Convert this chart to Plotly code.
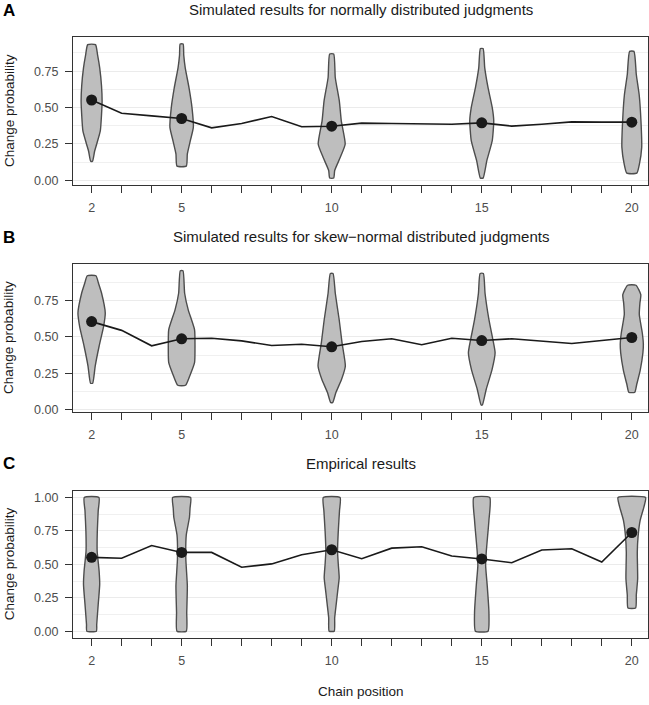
import plotly.graph_objects as go

W, H = 649, 705
FONT = "Liberation Sans, Arial, sans-serif"

# ---------------- data ----------------
positions = list(range(2, 21))
violin_positions = [2, 5, 10, 15, 20]
labelled = {2: "2", 5: "5", 10: "10", 15: "15", 20: "20"}
x_tick_labels = [labelled.get(p, "") for p in positions]

titles = [
    "Simulated results for normally distributed judgments",
    "Simulated results for skew\u2212normal distributed judgments",
    "Empirical results",
]
panel_letters = ["A", "B", "C"]

# mean change probability by chain position (2..20)
mean_A = [0.552, 0.461, 0.443, 0.425, 0.361, 0.391, 0.439, 0.368, 0.372, 0.393,
          0.391, 0.386, 0.386, 0.395, 0.373, 0.386, 0.402, 0.400, 0.400]
mean_B = [0.605, 0.545, 0.439, 0.487, 0.491, 0.473, 0.441, 0.450, 0.432, 0.468,
          0.487, 0.446, 0.491, 0.475, 0.487, 0.473, 0.455, 0.475, 0.496]
mean_C = [0.552, 0.545, 0.641, 0.589, 0.589, 0.478, 0.503, 0.572, 0.609, 0.542,
          0.621, 0.631, 0.562, 0.540, 0.512, 0.607, 0.616, 0.517, 0.738]

# violin density profiles: (probability levels, relative half-width)
viol_A = [
    ([0.132, 0.20, 0.25, 0.34, 0.45, 0.545, 0.65, 0.773, 0.86, 0.932],
     [0.03, 0.10, 0.17, 0.29, 0.33, 0.35, 0.33, 0.27, 0.20, 0.13]),
    ([0.098, 0.182, 0.273, 0.364, 0.50, 0.637, 0.773, 0.86, 0.937],
     [0.155, 0.19, 0.29, 0.39, 0.345, 0.245, 0.12, 0.07, 0.05]),
    ([0.016, 0.068, 0.16, 0.25, 0.409, 0.545, 0.705, 0.868],
     [0.067, 0.10, 0.29, 0.45, 0.32, 0.255, 0.12, 0.067]),
    ([0.016, 0.136, 0.273, 0.41, 0.50, 0.637, 0.773, 0.905],
     [0.045, 0.17, 0.35, 0.40, 0.35, 0.21, 0.10, 0.045]),
    ([0.05, 0.114, 0.227, 0.41, 0.59, 0.727, 0.886],
     [0.167, 0.255, 0.33, 0.305, 0.245, 0.15, 0.072]),
]
viol_B = [
    ([0.182, 0.30, 0.436, 0.573, 0.664, 0.80, 0.868, 0.92],
     [0.035, 0.12, 0.25, 0.40, 0.455, 0.333, 0.23, 0.145]),
    ([0.168, 0.232, 0.323, 0.436, 0.55, 0.686, 0.80, 0.954],
     [0.13, 0.27, 0.43, 0.445, 0.43, 0.22, 0.10, 0.045]),
    ([0.05, 0.118, 0.209, 0.30, 0.459, 0.618, 0.80, 0.936],
     [0.035, 0.14, 0.33, 0.455, 0.345, 0.25, 0.12, 0.045]),
    ([0.032, 0.141, 0.277, 0.391, 0.482, 0.618, 0.80, 0.936],
     [0.02, 0.15, 0.345, 0.445, 0.37, 0.24, 0.11, 0.055]),
    ([0.12, 0.17, 0.27, 0.39, 0.45, 0.527, 0.654, 0.73, 0.79, 0.855],
     [0.10, 0.16, 0.28, 0.37, 0.385, 0.35, 0.25, 0.27, 0.30, 0.14]),
]
viol_C = [
    ([0.0, 0.05, 0.2, 0.35, 0.45, 0.6, 0.75, 0.9, 1.0],
     [0.16, 0.17, 0.22, 0.27, 0.25, 0.185, 0.19, 0.22, 0.245]),
    ([0.0, 0.14, 0.34, 0.54, 0.72, 0.85, 0.92, 1.0],
     [0.155, 0.17, 0.19, 0.14, 0.155, 0.26, 0.28, 0.30]),
    ([0.0, 0.1, 0.2, 0.3, 0.4, 0.5, 0.6, 0.75, 0.9, 1.0],
     [0.085, 0.10, 0.15, 0.20, 0.25, 0.22, 0.195, 0.22, 0.26, 0.28]),
    ([0.0, 0.14, 0.34, 0.49, 0.59, 0.83, 1.0],
     [0.21, 0.24, 0.183, 0.13, 0.15, 0.24, 0.267]),
    ([0.174, 0.27, 0.39, 0.59, 0.71, 0.83, 0.93, 1.0],
     [0.128, 0.15, 0.195, 0.183, 0.21, 0.28, 0.405, 0.46]),
]

y_ranges = [[-0.030, 0.983], [-0.014, 1.0], [-0.05, 1.05]]
y_ticks = [[0, 0.25, 0.5, 0.75], [0, 0.25, 0.5, 0.75], [0, 0.25, 0.5, 0.75, 1.0]]
y_minor = [[0.125, 0.375, 0.625, 0.875], [0.125, 0.375, 0.625, 0.875], [0.125, 0.375, 0.625, 0.875]]

# ---------------- layout geometry (pixels) ----------------
plot_left, plot_right = 73, 648
panel_px = [(37.5, 186.1), (266.0, 414.7), (494.3, 642.4)]
title_px = [10, 238, 467]
letter_px = [11, 239, 467]


def px_x(p):
    return p / W


def px_y(p):
    return 1 - p / H


fig = go.Figure()
means = [mean_A, mean_B, mean_C]
violins = [viol_A, viol_B, viol_C]

layout = {}
annotations = []
for i in range(3):
    sfx = "" if i == 0 else str(i + 1)
    xa, ya = "x" + sfx, "y" + sfx
    for pos, (vy, hw) in zip(violin_positions, violins[i]):
        xs = [pos + w for w in hw] + [pos - w for w in reversed(hw)] + [pos + hw[0]]
        ys = list(vy) + list(reversed(vy)) + [vy[0]]
        fig.add_trace(go.Scatter(
            x=xs, y=ys, mode="lines", fill="toself", fillcolor="#bebebe",
            line=dict(color="#4d4d4d", width=1.4, shape="spline", smoothing=0.5),
            xaxis=xa, yaxis=ya, hoverinfo="skip", showlegend=False))
    fig.add_trace(go.Scatter(
        x=positions, y=means[i], mode="lines",
        line=dict(color="#1a1a1a", width=1.6),
        xaxis=xa, yaxis=ya, showlegend=False))
    pt_y = [means[i][positions.index(p)] for p in violin_positions]
    fig.add_trace(go.Scatter(
        x=violin_positions, y=pt_y, mode="markers",
        marker=dict(color="#1a1a1a", size=11, line=dict(width=0)),
        xaxis=xa, yaxis=ya, showlegend=False))

    top, bot = panel_px[i]
    layout["xaxis" + sfx] = dict(
        domain=[px_x(plot_left), px_x(plot_right)], anchor=ya,
        range=[1.38, 20.54], tickvals=positions, ticktext=x_tick_labels,
        ticks="outside", ticklen=7, tickwidth=1.3, tickcolor="#333333",
        showline=True, linecolor="#333333", linewidth=1.3, mirror=True,
        showgrid=False, zeroline=False, ticklabelstandoff=4,
        tickfont=dict(family=FONT, size=12.5, color="#4d4d4d"))
    layout["yaxis" + sfx] = dict(
        domain=[px_y(bot), px_y(top)], anchor=xa,
        range=y_ranges[i], tickvals=y_ticks[i],
        ticktext=["%.2f" % v for v in y_ticks[i]],
        ticks="outside", ticklen=7, tickwidth=1.3, tickcolor="#333333",
        showline=True, linecolor="#333333", linewidth=1.3, mirror=True,
        showgrid=True, gridcolor="#ebebeb", gridwidth=1.3, zeroline=False,
        ticklabelstandoff=4,
        minor=dict(tickvals=y_minor[i], showgrid=True, gridcolor="#f0f0f0",
                   gridwidth=0.8, ticks=""),
        tickfont=dict(family=FONT, size=12.5, color="#4d4d4d"))

    annotations.append(dict(
        text=titles[i], xref="paper", yref="paper",
        x=px_x((plot_left + plot_right) / 2), y=px_y(title_px[i]),
        xanchor="center", yanchor="middle", showarrow=False,
        font=dict(family=FONT, size=15, color="#1a1a1a")))
    annotations.append(dict(
        text="<b>" + panel_letters[i] + "</b>", xref="paper", yref="paper",
        x=px_x(1), y=px_y(letter_px[i]), xanchor="left", yanchor="middle",
        showarrow=False, font=dict(family=FONT, size=17, color="#000000")))
    annotations.append(dict(
        text="Change probability", xref="paper", yref="paper",
        x=px_x(9), y=px_y((top + bot) / 2), xanchor="center", yanchor="middle",
        textangle=-90, showarrow=False,
        font=dict(family=FONT, size=13.5, color="#1a1a1a")))

annotations.append(dict(
    text="Chain position", xref="paper", yref="paper",
    x=px_x((plot_left + plot_right) / 2), y=px_y(696),
    xanchor="center", yanchor="middle", showarrow=False,
    font=dict(family=FONT, size=13.5, color="#1a1a1a")))

fig.update_layout(
    width=W, height=H, margin=dict(l=0, r=0, t=0, b=0),
    paper_bgcolor="white", plot_bgcolor="white",
    annotations=annotations, showlegend=False, **layout)

fig.write_html("out.html")
